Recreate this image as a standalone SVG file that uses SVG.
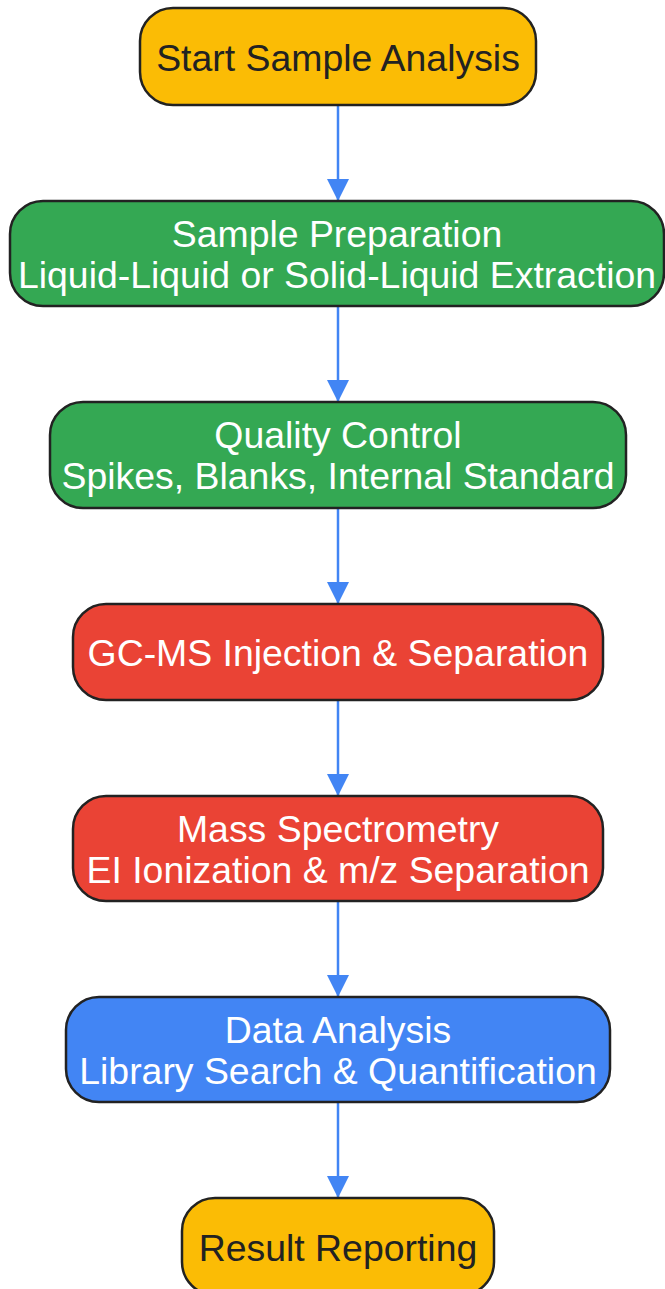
<svg xmlns="http://www.w3.org/2000/svg" width="665" height="1289" viewBox="0 0 665 1289">
<defs>
<style>
.n rect{stroke:#222;stroke-width:2.5}
.y rect{fill:#FBBC05}
.g rect{fill:#34A853}
.r rect{fill:#EA4335}
.b rect{fill:#4285F4}
text{font-family:"Liberation Sans",Arial,sans-serif;font-size:37.4px;text-anchor:middle}
.y text{fill:#222}
.g text,.r text,.b text{fill:#fff}
.e line{stroke:#4285F4;stroke-width:2.5;fill:none}
</style>
<marker id="ah" viewBox="0 0 22 32" refX="22" refY="11" markerWidth="22" markerHeight="32" markerUnits="userSpaceOnUse" orient="auto">
<path d="M0,0 L22,11 L0,22 Z" fill="#4285F4"/>
</marker>
</defs>
<rect width="665" height="1289" fill="#fff"/>
<g id="edges" class="e">
<line x1="338" y1="105" x2="338" y2="201" marker-end="url(#ah)"/>
<line x1="338" y1="306" x2="338" y2="402" marker-end="url(#ah)"/>
<line x1="338" y1="508" x2="338" y2="604" marker-end="url(#ah)"/>
<line x1="338" y1="700" x2="338" y2="796" marker-end="url(#ah)"/>
<line x1="338" y1="901" x2="338" y2="997" marker-end="url(#ah)"/>
<line x1="338" y1="1102" x2="338" y2="1198" marker-end="url(#ah)"/>
</g>
<g id="start" class="n y">
<rect x="140" y="8" width="396" height="97" rx="33"/>
<text x="338" y="71">Start Sample Analysis</text>
</g>
<g id="prep" class="n g">
<rect x="10" y="201" width="654" height="105" rx="33"/>
<text x="337" y="247">Sample Preparation</text>
<text x="337" y="288">Liquid-Liquid or Solid-Liquid Extraction</text>
</g>
<g id="qc" class="n g">
<rect x="50" y="402" width="576" height="106" rx="33"/>
<text x="338" y="448">Quality Control</text>
<text x="338" y="489">Spikes, Blanks, Internal Standard</text>
</g>
<g id="gcms" class="n r">
<rect x="73" y="604" width="530" height="96" rx="33"/>
<text x="338" y="666">GC-MS Injection &amp; Separation</text>
</g>
<g id="ms" class="n r">
<rect x="73" y="796" width="530" height="105" rx="33"/>
<text x="338" y="842">Mass Spectrometry</text>
<text x="338" y="883">EI Ionization &amp; m/z Separation</text>
</g>
<g id="data" class="n b">
<rect x="66" y="997" width="544" height="105" rx="33"/>
<text x="338" y="1043">Data Analysis</text>
<text x="338" y="1084">Library Search &amp; Quantification</text>
</g>
<g id="report" class="n y">
<rect x="182" y="1198" width="312" height="97" rx="33"/>
<text x="338" y="1261">Result Reporting</text>
</g>
</svg>
